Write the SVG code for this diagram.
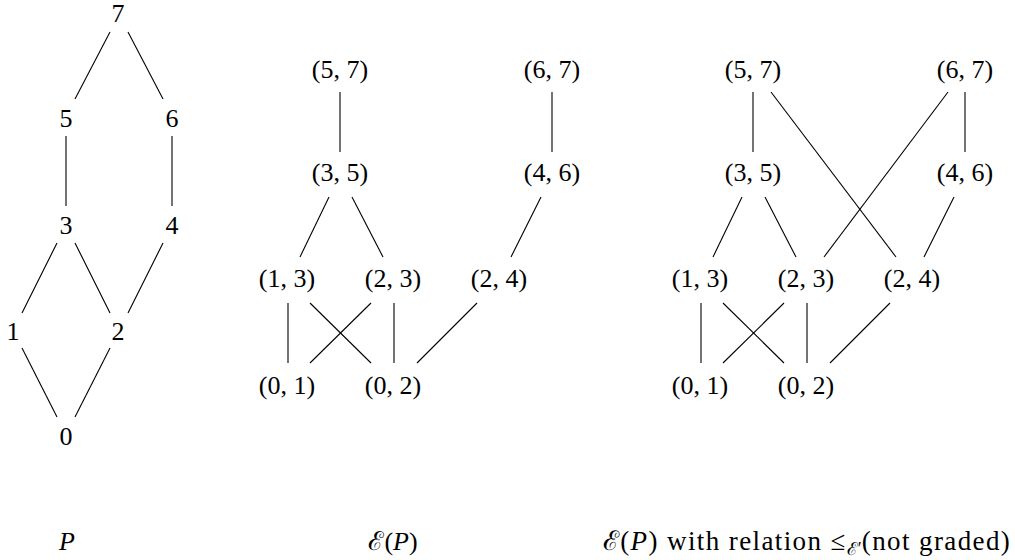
<svg xmlns="http://www.w3.org/2000/svg" width="1015" height="560" viewBox="0 0 1015 560">
<style>
text{font-family:"Liberation Serif","DejaVu Serif",serif;font-size:26px;fill:#000;text-anchor:middle}
.e line{stroke:#000;stroke-width:1.1}
.it{font-style:italic}
.cap{font-size:27px;letter-spacing:1.4px}
</style>
<rect width="1015" height="560" fill="#fff"/>
<g id="edges" class="e">
<line x1="110" y1="32" x2="75" y2="99"/>
<line x1="128" y1="32" x2="163" y2="99"/>
<line x1="66" y1="136" x2="66" y2="206"/>
<line x1="172" y1="136" x2="172" y2="206"/>
<line x1="57" y1="243" x2="22" y2="313"/>
<line x1="75" y1="243" x2="110" y2="313"/>
<line x1="163" y1="243" x2="128" y2="313"/>
<line x1="22" y1="348" x2="57" y2="417"/>
<line x1="110" y1="348" x2="75" y2="417"/>
<line x1="340" y1="92" x2="340" y2="152"/>
<line x1="552" y1="92" x2="552" y2="152"/>
<line x1="329" y1="197" x2="300" y2="257"/>
<line x1="352" y1="197" x2="383" y2="257"/>
<line x1="541" y1="197" x2="511" y2="257"/>
<line x1="288" y1="303" x2="288" y2="363"/>
<line x1="310" y1="303" x2="371" y2="363"/>
<line x1="371" y1="303" x2="310" y2="363"/>
<line x1="394" y1="303" x2="394" y2="363"/>
<line x1="477" y1="303" x2="417" y2="363"/>
<line x1="753" y1="92" x2="753" y2="152"/>
<line x1="965" y1="92" x2="965" y2="152"/>
<line x1="771" y1="92" x2="896" y2="257"/>
<line x1="948" y1="92" x2="824" y2="257"/>
<line x1="742" y1="197" x2="713" y2="257"/>
<line x1="765" y1="197" x2="796" y2="257"/>
<line x1="954" y1="197" x2="924" y2="257"/>
<line x1="701" y1="303" x2="701" y2="363"/>
<line x1="723" y1="303" x2="784" y2="363"/>
<line x1="784" y1="303" x2="723" y2="363"/>
<line x1="807" y1="303" x2="807" y2="363"/>
<line x1="890" y1="303" x2="830" y2="363"/>
</g>
<g id="p7"><text x="118" y="22">7</text></g>
<g id="p5"><text x="66" y="127">5</text></g>
<g id="p6"><text x="172" y="127">6</text></g>
<g id="p3"><text x="66" y="234">3</text></g>
<g id="p4"><text x="172" y="234">4</text></g>
<g id="p1"><text x="13" y="340">1</text></g>
<g id="p2"><text x="118" y="340">2</text></g>
<g id="p0"><text x="66" y="445">0</text></g>
<g id="m57"><text x="340" y="78">(5, 7)</text></g>
<g id="m67"><text x="552" y="78">(6, 7)</text></g>
<g id="m35"><text x="340" y="181">(3, 5)</text></g>
<g id="m46"><text x="552" y="181">(4, 6)</text></g>
<g id="m13"><text x="287" y="287">(1, 3)</text></g>
<g id="m23"><text x="393" y="287">(2, 3)</text></g>
<g id="m24"><text x="499" y="287">(2, 4)</text></g>
<g id="m01"><text x="287" y="394">(0, 1)</text></g>
<g id="m02"><text x="393" y="394">(0, 2)</text></g>
<g id="r57"><text x="753" y="78">(5, 7)</text></g>
<g id="r67"><text x="965" y="78">(6, 7)</text></g>
<g id="r35"><text x="753" y="181">(3, 5)</text></g>
<g id="r46"><text x="965" y="181">(4, 6)</text></g>
<g id="r13"><text x="700" y="287">(1, 3)</text></g>
<g id="r23"><text x="806" y="287">(2, 3)</text></g>
<g id="r24"><text x="912" y="287">(2, 4)</text></g>
<g id="r01"><text x="700" y="394">(0, 1)</text></g>
<g id="r02"><text x="806" y="394">(0, 2)</text></g>
<g id="labels">
<text x="67" y="550" class="it">P</text>
<text x="393" y="550">ℰ(<tspan class="it">P</tspan>)</text>
<text x="807" y="550" class="cap">ℰ(<tspan class="it">P</tspan>) with relation ≤<tspan font-size="18" letter-spacing="0" dy="5">ℰ′</tspan><tspan dy="-5">(not graded)</tspan></text>
</g>
</svg>
